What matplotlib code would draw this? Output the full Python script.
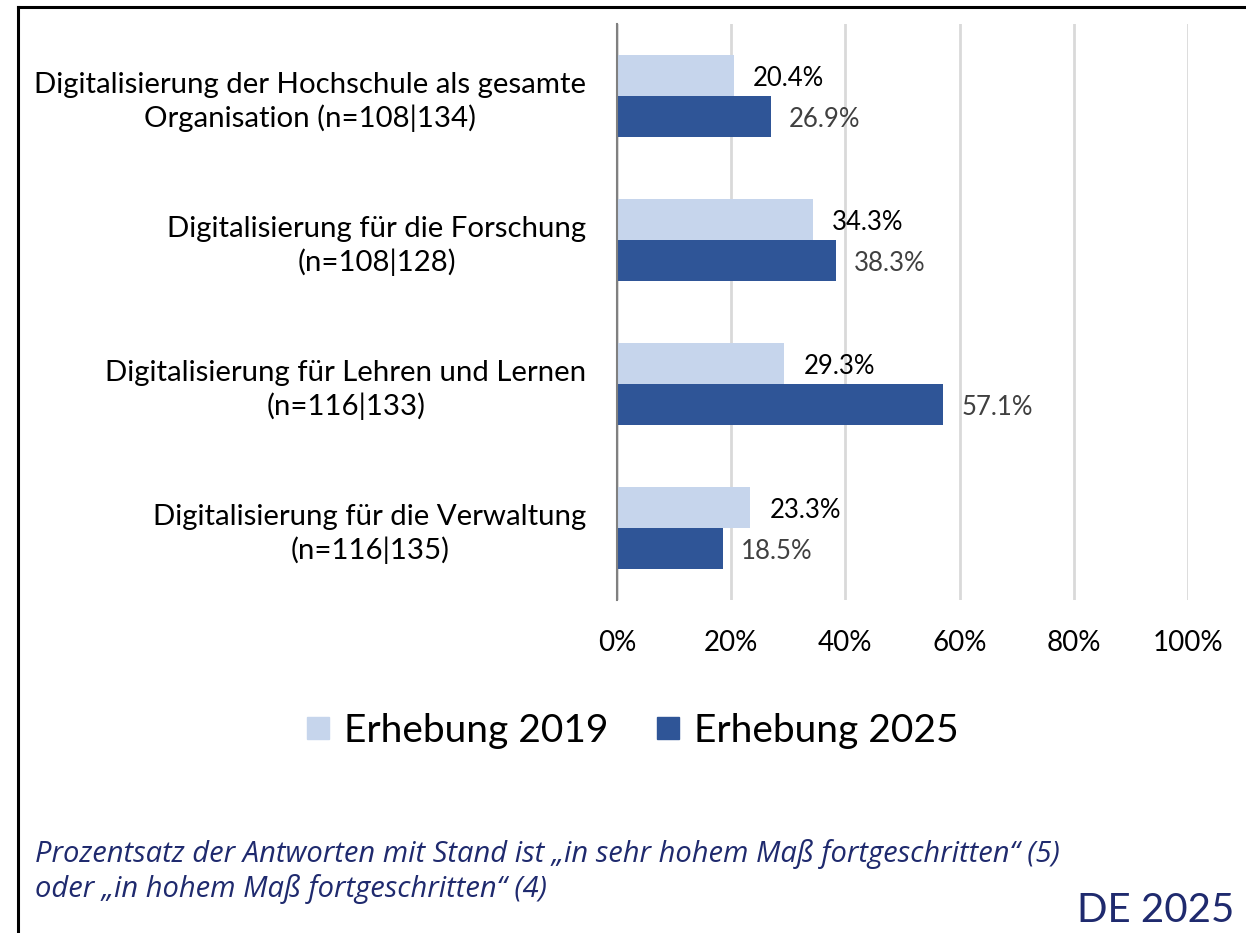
#!/usr/bin/env python3
"""
Horizontal bar chart: Stand der Digitalisierung, Erhebung 2019 vs 2025
"""

import matplotlib
matplotlib.use('Agg')
import matplotlib.pyplot as plt
import numpy as np
from matplotlib.lines import Line2D

categories = [
    'Digitalisierung der Hochschule als gesamte\nOrganisation (n=108|134)',
    'Digitalisierung für die Forschung\n(n=108|128)',
    'Digitalisierung für Lehren und Lernen\n(n=116|133)',
    'Digitalisierung für die Verwaltung\n(n=116|135)',
]
values_2019 = [20.4, 34.3, 29.3, 23.3]
values_2025 = [26.9, 38.3, 57.1, 18.5]
series_names = ['Erhebung 2019', 'Erhebung 2025']
xticks = [0, 20, 40, 60, 80, 100]

footnote = ('Prozentsatz der Antworten mit Stand ist „in sehr hohem Maß fortgeschritten“ (5)\n'
            'oder „in hohem Maß fortgeschritten“ (4)')

plt.rcParams['font.family'] = ['Lato', 'DejaVu Sans']

fig = plt.figure(figsize=(12.46, 9.33), dpi=100)
ax = fig.add_axes([0.4952, 0.357, 0.4583, 0.6173])

y = np.arange(len(categories))
h = 0.285
light = '#C6D5EC'
dark = '#2F5597'

b1 = ax.barh(y - h / 2, values_2019, h, color=light, label=series_names[0], zorder=3)
b2 = ax.barh(y + h / 2, values_2025, h, color=dark, label=series_names[1], zorder=3)

for bar, val in zip(b1, values_2019):
    ax.annotate(f'{val:.1f}%', (bar.get_width(), bar.get_y() + bar.get_height() / 2),
                xytext=(14, -2), textcoords='offset points', va='center', ha='left',
                fontsize=18.5, color='black')
for bar, val in zip(b2, values_2025):
    ax.annotate(f'{val:.1f}%', (bar.get_width(), bar.get_y() + bar.get_height() / 2),
                xytext=(13, -2), textcoords='offset points', va='center', ha='left',
                fontsize=18.5, color='#404040')

ax.set_xlim(0, 100)
ax.set_ylim(len(categories) - 0.5, -0.5)
ax.set_yticks(y)
ax.set_yticklabels(categories, fontsize=21.2, multialignment='center', linespacing=1.3)
ax.set_xticks(xticks)
ax.set_xticklabels([f'{t}%' for t in xticks], fontsize=20)
ax.tick_params(axis='both', length=0)
ax.tick_params(axis='y', pad=22)
ax.tick_params(axis='x', pad=22)

ax.grid(axis='x', color='#D9D9D9', linewidth=2, zorder=0)
for s in ['top', 'right', 'bottom']:
    ax.spines[s].set_visible(False)
ax.spines['left'].set_color('#808080')
ax.spines['left'].set_linewidth(1.5)
ax.spines['left'].set_zorder(4)

handles = [Line2D([0], [0], marker='s', linestyle='none', markersize=16,
                  markerfacecolor=c, markeredgecolor=c) for c in (light, dark)]
fig.legend(handles, series_names, loc='center', bbox_to_anchor=(0.503, 0.217),
           ncol=2, frameon=False, fontsize=28, handletextpad=0.05, columnspacing=0.95,
           handlelength=1.2)

fig.text(0.028, 0.031, footnote, fontsize=21, style='italic', color='#1F2A6E',
         family=['Open Sans', 'DejaVu Sans'], va='bottom', ha='left', linespacing=1.2)
fig.text(0.991, 0.004, 'DE 2025', fontsize=29, color='#1F2A6E', ha='right', va='bottom')

# frame lines (left and top)
fig.add_artist(Line2D([0.0145, 0.0145], [0, 0.993], transform=fig.transFigure,
                      color='black', linewidth=2.2))
fig.add_artist(Line2D([0.0145, 1.0], [0.993, 0.993], transform=fig.transFigure,
                      color='black', linewidth=2.2))

plt.savefig('out.png', dpi=100)
plt.close()
